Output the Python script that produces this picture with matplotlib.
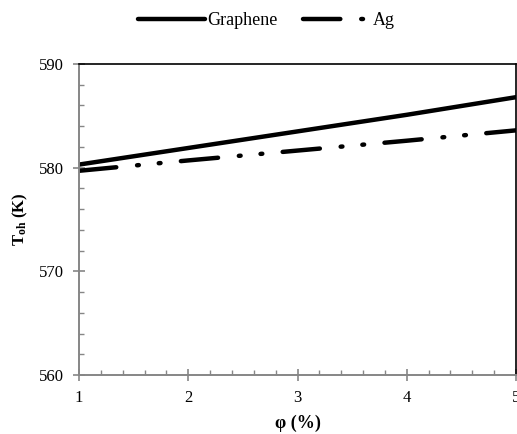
import matplotlib
matplotlib.use("Agg")
import matplotlib.pyplot as plt
from matplotlib.ticker import MultipleLocator

plt.rcParams['font.family'] = ['Liberation Serif', 'DejaVu Serif']
plt.rcParams['mathtext.fontset'] = 'custom'
plt.rcParams['mathtext.rm'] = 'Liberation Serif'
plt.rcParams['mathtext.bf'] = 'Liberation Serif:bold'
plt.rcParams['mathtext.it'] = 'Liberation Serif:italic'

# Volume fraction (%) and outlet temperature (K)
phi = [1, 2, 3, 4, 5]
t_graphene = [580.3, 581.9, 583.5, 585.1, 586.8]
t_ag = [579.7, 580.7, 581.65, 582.6, 583.6]

fig = plt.figure(figsize=(5.17, 4.34), dpi=100)
ax = fig.add_axes([0.153, 0.136, 0.845, 0.7165])

lw = 3.2
ax.plot(phi, t_graphene, color='black', lw=lw, solid_capstyle='round',
        label='Graphene')
ax.plot(phi, t_ag, color='black', lw=lw, dash_capstyle='round',
        dashes=(8.4, 4.7, 0.4, 4.5, 0.4, 4.6), label='Ag')

ax.set_xlim(1, 5)
ax.set_ylim(560, 590)
ax.xaxis.set_major_locator(MultipleLocator(1))
ax.xaxis.set_minor_locator(MultipleLocator(0.2))
ax.yaxis.set_major_locator(MultipleLocator(10))
ax.yaxis.set_minor_locator(MultipleLocator(2))

grey = '#868686'
for side in ('left', 'bottom'):
    ax.spines[side].set_color(grey)
    ax.spines[side].set_linewidth(1.4)
for side in ('top', 'right'):
    ax.spines[side].set_color('black')
    ax.spines[side].set_linewidth(1.2)

ax.tick_params(which='major', direction='inout', length=8, width=1.2,
               color=grey, labelsize=12)
ax.tick_params(which='minor', direction='in', length=3.5, width=1.0,
               color=grey)
ax.tick_params(axis='x', which='major', pad=7)
ax.tick_params(axis='y', which='major', pad=7)

ax.set_xlabel('φ (%)', fontsize=13, fontweight='bold', labelpad=6)
ax.set_ylabel(r'$\mathbf{T_{oh}}$ $\mathbf{(K)}$', fontsize=12, labelpad=6)

fig.legend(loc='center', bbox_to_anchor=(0.515, 0.953), ncol=2,
           frameon=False, fontsize=13, handlelength=3.7, handletextpad=0.15,
           columnspacing=1.4, borderpad=0)

fig.savefig('out.png', dpi=100)
